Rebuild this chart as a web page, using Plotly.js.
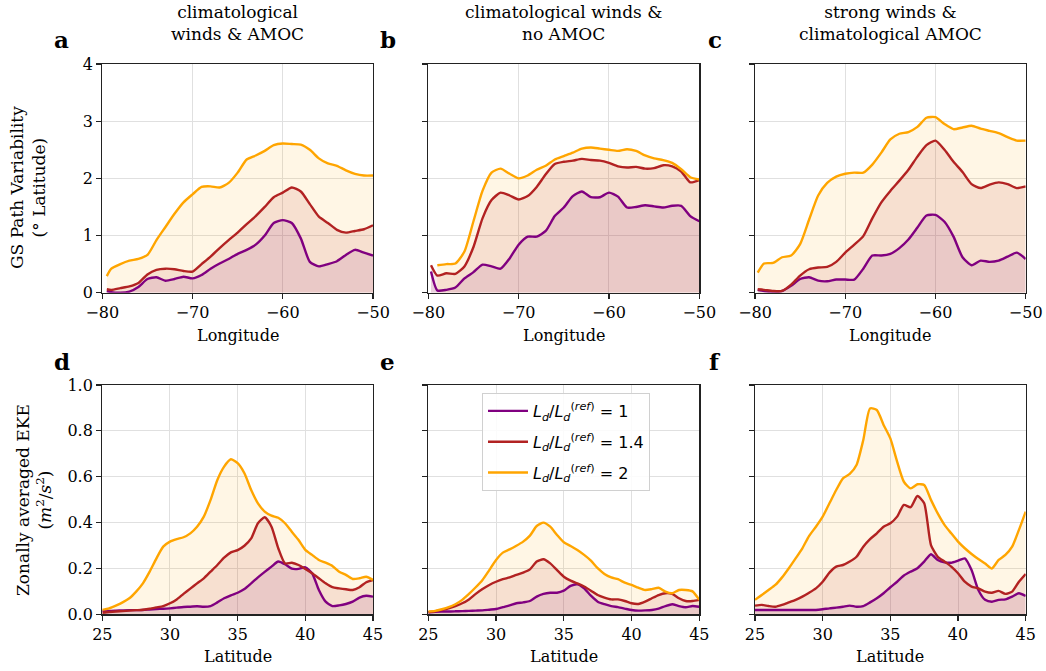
<!DOCTYPE html>
<html>
<head>
<meta charset="utf-8">
<script src="https://cdn.plot.ly/plotly-3.0.1.min.js"></script>
<style>html,body{margin:0;padding:0;background:#fff;}#chart{width:1046px;height:671px;}</style>
</head>
<body>
<div id="chart"></div>
<script>
// ---------- data ----------
const lonA = [-79.5,-79,-78,-77,-76,-75,-74,-73,-72,-71,-70,-69,-68,-67,-66,-65,-64,-63,-62,-61,-60,-59,-58,-57,-56,-55,-54,-53,-52,-51,-50];
const lonTail = [-79,-78,-77,-76,-75,-74,-73,-72,-71,-70,-69,-68,-67,-66,-65,-64,-63,-62,-61,-60,-59,-58,-57,-56,-55,-54,-53,-52,-51,-50];
const lonB = [-79.7,-79,-78,-77,-76,-75,-74,-73,-72,-71,-70,-69,-68,-67,-66,-65,-64,-63,-62,-61,-60,-59,-58,-57,-56,-55,-54,-53,-52,-51,-50];
const lonC = lonB;

const orangeA = [0.29,0.42,0.50,0.56,0.59,0.66,0.92,1.15,1.38,1.58,1.72,1.85,1.86,1.84,1.92,2.10,2.33,2.40,2.48,2.58,2.61,2.60,2.59,2.50,2.35,2.26,2.22,2.14,2.08,2.05,2.05];
const redA    = [0.06,0.05,0.08,0.11,0.17,0.32,0.40,0.42,0.41,0.38,0.37,0.50,0.63,0.78,0.92,1.05,1.20,1.34,1.50,1.67,1.75,1.84,1.77,1.55,1.33,1.22,1.10,1.05,1.08,1.11,1.18];
const purpleA = [0.03,0.01,0.00,0.02,0.10,0.24,0.27,0.21,0.24,0.28,0.25,0.31,0.42,0.51,0.59,0.68,0.75,0.84,1.00,1.22,1.27,1.22,0.95,0.54,0.46,0.50,0.55,0.66,0.75,0.70,0.65];

const orangeB = [0.48,0.50,0.51,0.72,1.25,1.78,2.10,2.17,2.08,2.00,2.05,2.15,2.22,2.33,2.39,2.45,2.52,2.54,2.52,2.50,2.48,2.51,2.48,2.40,2.35,2.32,2.27,2.16,2.02,1.98];
const redB    = [0.48,0.30,0.34,0.33,0.46,0.80,1.30,1.62,1.75,1.70,1.63,1.69,1.85,2.07,2.25,2.29,2.31,2.34,2.32,2.31,2.27,2.21,2.19,2.20,2.17,2.18,2.23,2.21,2.12,1.93,1.97];
const purpleB = [0.37,0.04,0.05,0.09,0.25,0.36,0.49,0.46,0.42,0.60,0.84,0.98,0.98,1.08,1.34,1.49,1.69,1.77,1.67,1.67,1.75,1.68,1.49,1.50,1.53,1.51,1.49,1.52,1.52,1.34,1.25];

const orangeC = [0.35,0.51,0.52,0.62,0.65,0.85,1.28,1.70,1.92,2.03,2.08,2.10,2.10,2.24,2.45,2.68,2.78,2.81,2.90,3.06,3.07,2.95,2.86,2.89,2.92,2.87,2.83,2.79,2.72,2.66,2.66];
const redC    = [0.06,0.05,0.03,0.03,0.14,0.30,0.41,0.44,0.45,0.54,0.70,0.84,0.99,1.30,1.58,1.78,1.96,2.15,2.38,2.58,2.66,2.50,2.29,2.11,1.90,1.83,1.89,1.93,1.90,1.83,1.86];
const purpleC = [0.05,0.03,0.02,0.03,0.12,0.24,0.27,0.21,0.20,0.23,0.23,0.23,0.42,0.65,0.65,0.68,0.78,0.93,1.14,1.35,1.36,1.24,0.98,0.62,0.48,0.56,0.54,0.56,0.63,0.70,0.59];

const lat = [25,25.5,26,26.5,27,27.5,28,28.5,29,29.5,30,30.5,31,31.5,32,32.5,33,33.5,34,34.5,35,35.5,36,36.5,37,37.5,38,38.5,39,39.5,40,40.5,41,41.5,42,42.5,43,43.5,44,44.5,45];

const orangeD = [0.019,0.026,0.038,0.052,0.070,0.099,0.135,0.186,0.244,0.295,0.317,0.328,0.336,0.353,0.382,0.426,0.499,0.586,0.644,0.676,0.659,0.615,0.542,0.484,0.448,0.430,0.421,0.397,0.360,0.324,0.281,0.259,0.237,0.225,0.211,0.186,0.172,0.154,0.157,0.164,0.150];
const redD    = [0.007,0.010,0.012,0.014,0.016,0.018,0.020,0.024,0.030,0.036,0.048,0.065,0.089,0.112,0.135,0.157,0.186,0.215,0.247,0.270,0.280,0.299,0.331,0.397,0.423,0.382,0.288,0.222,0.225,0.215,0.198,0.179,0.157,0.135,0.118,0.113,0.109,0.106,0.118,0.140,0.150];
const purpleD = [0.015,0.015,0.016,0.017,0.018,0.018,0.019,0.021,0.023,0.024,0.026,0.029,0.032,0.033,0.035,0.033,0.036,0.052,0.070,0.083,0.094,0.110,0.135,0.161,0.185,0.208,0.230,0.218,0.199,0.198,0.205,0.179,0.106,0.055,0.036,0.039,0.045,0.055,0.073,0.081,0.077];

const orangeE = [0.012,0.015,0.022,0.031,0.044,0.063,0.089,0.118,0.150,0.193,0.237,0.269,0.283,0.299,0.317,0.343,0.385,0.400,0.382,0.346,0.314,0.298,0.280,0.259,0.234,0.201,0.176,0.161,0.153,0.138,0.128,0.116,0.106,0.110,0.116,0.099,0.092,0.106,0.106,0.100,0.063];
const redE    = [0.009,0.013,0.019,0.026,0.036,0.048,0.065,0.089,0.110,0.128,0.142,0.153,0.161,0.172,0.182,0.196,0.230,0.240,0.222,0.193,0.164,0.147,0.135,0.121,0.103,0.084,0.073,0.065,0.065,0.058,0.048,0.045,0.055,0.070,0.084,0.092,0.089,0.070,0.058,0.058,0.063];
const purpleE = [0.009,0.011,0.012,0.012,0.013,0.014,0.015,0.016,0.017,0.020,0.023,0.031,0.039,0.048,0.052,0.058,0.077,0.089,0.094,0.094,0.103,0.124,0.131,0.113,0.081,0.055,0.044,0.036,0.031,0.025,0.019,0.016,0.017,0.019,0.025,0.036,0.044,0.036,0.031,0.036,0.033];

const orangeF = [0.063,0.084,0.106,0.128,0.161,0.201,0.244,0.288,0.342,0.382,0.426,0.484,0.542,0.593,0.612,0.651,0.760,0.898,0.891,0.826,0.767,0.666,0.578,0.549,0.567,0.564,0.499,0.440,0.390,0.353,0.317,0.288,0.263,0.241,0.222,0.200,0.237,0.259,0.295,0.368,0.448];
const redF    = [0.038,0.041,0.036,0.033,0.041,0.052,0.063,0.077,0.094,0.113,0.142,0.182,0.208,0.215,0.230,0.251,0.295,0.328,0.353,0.382,0.397,0.426,0.477,0.467,0.516,0.484,0.302,0.251,0.230,0.208,0.179,0.142,0.121,0.113,0.099,0.094,0.102,0.089,0.099,0.142,0.176];
const purpleF = [0.019,0.019,0.019,0.019,0.019,0.019,0.019,0.019,0.019,0.019,0.022,0.026,0.029,0.033,0.038,0.033,0.036,0.052,0.070,0.092,0.118,0.142,0.169,0.186,0.201,0.230,0.262,0.237,0.227,0.225,0.234,0.244,0.193,0.106,0.063,0.055,0.063,0.065,0.077,0.092,0.080];

const colTitles = ["climatological<br>winds &amp; AMOC", "climatological winds &amp;<br>no AMOC", "strong winds &amp;<br>climatological AMOC"];
const panelLetters = ["a","b","c","d","e","f"];
const seriesNames = [
  "<i>L</i><sub><i>d</i></sub>/<i>L</i><sub><i>d</i></sub><sup>(<i>ref</i>)</sup> = 1",
  "<i>L</i><sub><i>d</i></sub>/<i>L</i><sub><i>d</i></sub><sup>(<i>ref</i>)</sup> = 1.4",
  "<i>L</i><sub><i>d</i></sub>/<i>L</i><sub><i>d</i></sub><sup>(<i>ref</i>)</sup> = 2"
];
const lonTicks = [-80,-70,-60,-50];
const latTicks = [25,30,35,40,45];

// ---------- styling ----------
const W = 1046, H = 671;
const C_PURPLE = "#800080", C_RED = "#b22222", C_ORANGE = "#ffa500";
const F_PURPLE = "rgba(128,0,128,0.1)", F_RED = "rgba(178,34,34,0.1)", F_ORANGE = "rgba(255,165,0,0.1)";
const SERIF = "DejaVu Serif, serif";

const panels = [
  {ax:"", x:[lonA, lonA, lonA], y:[purpleA, redA, orangeA]},
  {ax:"2", x:[lonB, lonB, lonTail], y:[purpleB, redB, orangeB]},
  {ax:"3", x:[lonC, lonC, lonC], y:[purpleC, redC, orangeC]},
  {ax:"4", x:[lat, lat, lat], y:[purpleD, redD, orangeD]},
  {ax:"5", x:[lat, lat, lat], y:[purpleE, redE, orangeE]},
  {ax:"6", x:[lat, lat, lat], y:[purpleF, redF, orangeF]}
];
const lineCols = [C_PURPLE, C_RED, C_ORANGE];
const fillCols = [F_PURPLE, F_RED, F_ORANGE];

const traces = [];
panels.forEach((p, pi) => {
  [2,1,0].forEach(k => {
    traces.push({x:p.x[k], y:p.y[k], xaxis:"x"+p.ax, yaxis:"y"+p.ax, type:"scatter", mode:"lines",
      line:{width:0, color:lineCols[k], shape:"spline", smoothing:0.6}, fill:"tozeroy", fillcolor:fillCols[k], showlegend:false, hoverinfo:"skip"});
  });
  [0,1,2].forEach(k => {
    traces.push({x:p.x[k], y:p.y[k], xaxis:"x"+p.ax, yaxis:"y"+p.ax, type:"scatter", mode:"lines",
      line:{width:2.4, color:lineCols[k], shape:"spline", smoothing:0.6}, name:seriesNames[k], legendgroup:"g"+k,
      showlegend: pi===4, hoverinfo:"skip"});
  });
});

const colX = [[102.3,373],[428.3,699.3],[755,1025.7]];
const rowY = [[64,292.7],[385,614.3]];
const px = v => v / W;
const py = v => 1 - v / H;

const layout = {
  width: W, height: H,
  margin:{l:0,r:0,t:0,b:0,pad:0},
  paper_bgcolor:"white", plot_bgcolor:"white",
  font:{family:SERIF, size:16, color:"black"},
  showlegend:true,
  legend:{x:px(482), y:py(393), xanchor:"left", yanchor:"top", bgcolor:"rgba(255,255,255,0.85)",
          bordercolor:"#d0d0d0", borderwidth:1, font:{family:"DejaVu Sans, sans-serif", size:16, color:"black"},
          traceorder:"grouped", tracegroupgap:7, itemwidth:40},
  annotations:[]
};

for (let r = 0; r < 2; r++) {
  for (let c = 0; c < 3; c++) {
    const i = r*3 + c;
    const sfx = i === 0 ? "" : String(i+1);
    const axCommon = {showline:true, mirror:true, linecolor:"#222", linewidth:1.2,
      ticks:"outside", ticklen:5, tickwidth:1.2, tickcolor:"#222",
      showgrid:true, gridcolor:"#e0e0e0", gridwidth:1, zeroline:false,
      tickfont:{family:SERIF, size:16, color:"black"}, fixedrange:true};
    layout["xaxis"+sfx] = Object.assign({}, axCommon, {
      domain:[px(colX[c][0]), px(colX[c][1])], anchor:"y"+sfx,
      range: r === 0 ? [-80,-50] : [25,45], autorange:false,
      tickmode:"array", tickvals: r === 0 ? lonTicks : latTicks
    });
    layout["yaxis"+sfx] = Object.assign({}, axCommon, {
      domain:[py(rowY[r][1]), py(rowY[r][0])], anchor:"x"+sfx,
      range: r === 0 ? [0,4] : [0,1], autorange:false,
      tickmode:"array", tickvals: r === 0 ? [0,1,2,3,4] : [0,0.2,0.4,0.6,0.8,1.0],
      ticktext: r === 0 ? ["0","1","2","3","4"] : ["0.0","0.2","0.4","0.6","0.8","1.0"],
      showticklabels: c === 0
    });
    layout.annotations.push({text:"<b>"+panelLetters[i]+"</b>", xref:"paper", yref:"paper",
      x:px(colX[c][0]-40.5), y:py(rowY[r][0]-24), xanchor:"center", yanchor:"middle",
      showarrow:false, font:{family:SERIF, size:23, color:"black"}});
    layout.annotations.push({text: r === 0 ? "Longitude" : "Latitude", xref:"paper", yref:"paper",
      x:px((colX[c][0]+colX[c][1])/2), y:py(r === 0 ? 335 : 656), xanchor:"center", yanchor:"middle",
      showarrow:false, font:{family:SERIF, size:16, color:"black"}});
  }
}
for (let c = 0; c < 3; c++) {
  layout.annotations.push({text:colTitles[c], xref:"paper", yref:"paper",
    x:px((colX[c][0]+colX[c][1])/2), y:py(23), xanchor:"center", yanchor:"middle",
    showarrow:false, font:{family:SERIF, size:17, color:"black"}});
}
layout.annotations.push({text:"GS Path Variability<br>(° Latitude)", xref:"paper", yref:"paper",
  x:px(28), y:py(188), xanchor:"center", yanchor:"middle", textangle:-90,
  showarrow:false, font:{family:SERIF, size:17, color:"black"}});
layout.annotations.push({text:"Zonally averaged EKE<br>(<i>m</i><sup>2</sup>/<i>s</i><sup>2</sup>)", xref:"paper", yref:"paper",
  x:px(34), y:py(500), xanchor:"center", yanchor:"middle", textangle:-90,
  showarrow:false, font:{family:SERIF, size:17, color:"black"}});

Plotly.newPlot("chart", traces, layout, {displayModeBar:false, staticPlot:true, responsive:false});
</script>
</body>
</html>
